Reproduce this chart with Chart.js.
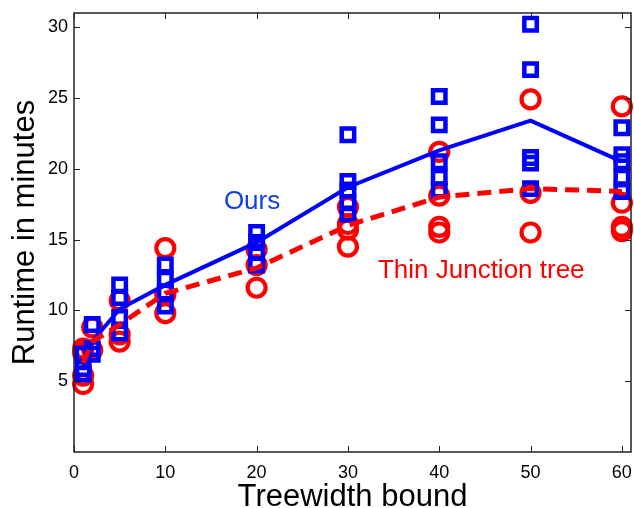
<!DOCTYPE html>
<html>
<head>
<meta charset="utf-8">
<script src="https://cdn.jsdelivr.net/npm/chart.js@4/dist/chart.umd.min.js"></script>
<style>
  html, body { margin: 0; padding: 0; background: #fff; }
  #wrap { width: 634px; height: 508px; }
</style>
</head>
<body>
<div id="wrap"><canvas id="runtimeChart"></canvas></div>
<script>
// treewidth bounds on the x axis
const widths = [1, 2, 5, 10, 20, 30, 40, 50, 60];

// individual runs, one list per treewidth bound
const oursRuns = [
    [5.5, 5.9, 6.9],
    [6.9, 7.3, 9.0],
    [8.4, 9.5, 10.9, 11.8],
    [10.3, 11.3, 12.2, 13.2],
    [13.2, 14.1, 14.8, 15.5],
    [16.8, 17.6, 18.5, 19.1, 22.4],
    [18.5, 19.4, 20.5, 23.1, 25.1],
    [18.6, 20.4, 20.8, 27.0, 30.2],
    [18.4, 19.4, 20.5, 21.0, 22.9]
];
const thinRuns = [
    [4.8, 5.4, 7.0, 7.3],
    [7.2, 8.8],
    [7.8, 8.3, 10.7],
    [9.8, 11.1, 14.4],
    [11.6, 13.2, 14.3],
    [14.5, 15.7, 16.1, 17.3],
    [15.5, 15.9, 18.1, 21.2],
    [15.5, 18.3, 24.9],
    [15.6, 15.9, 17.6, 24.4]
];

// mean curves
const oursMean = [5.9, 7.8, 10.1, 11.8, 14.8, 18.7, 21.3, 23.4, 20.5];
const thinMean = [6.3, 7.8, 9.0, 11.2, 13.0, 16.0, 18.0, 18.6, 18.4];

const xTicks = [0, 10, 20, 30, 40, 50, 60];
const yTicks = [5, 10, 15, 20, 25, 30];

const BLUE = '#0000ff';
const RED = '#ff0000';

function toPoints(runs) {
    const pts = [];
    runs.forEach((list, i) => list.forEach(v => pts.push({x: widths[i], y: v})));
    return pts;
}
function toLine(values) {
    return values.map((v, i) => ({x: widths[i], y: v}));
}

// MATLAB style box with inward ticks, plus text labels
const boxPlugin = {
    id: 'box',
    afterDatasetsDraw(chart) {
        const {ctx, chartArea: a, scales: {x, y}} = chart;
        ctx.save();
        ctx.strokeStyle = '#222';
        ctx.lineWidth = 1;
        ctx.beginPath();
        xTicks.forEach(t => {
            const px = Math.round(x.getPixelForValue(t)) + 0.5;
            ctx.moveTo(px, a.bottom); ctx.lineTo(px, a.bottom - 6);
            ctx.moveTo(px, a.top); ctx.lineTo(px, a.top + 6);
        });
        yTicks.forEach(t => {
            const py = Math.round(y.getPixelForValue(t)) + 0.5;
            ctx.moveTo(a.left, py); ctx.lineTo(a.left + 6, py);
            ctx.moveTo(a.right, py); ctx.lineTo(a.right - 6, py);
        });
        ctx.stroke();
        ctx.lineWidth = 1.5;
        ctx.strokeRect(a.left, a.top, a.right - a.left, a.bottom - a.top);

        ctx.font = '26px "Liberation Sans", Arial, sans-serif';
        ctx.textAlign = 'center';
        ctx.textBaseline = 'middle';
        ctx.fillStyle = '#1040e0';
        ctx.fillText('Ours', x.getPixelForValue(19.5), y.getPixelForValue(17.7));
        ctx.fillStyle = RED;
        ctx.fillText('Thin Junction tree', x.getPixelForValue(44.6), y.getPixelForValue(12.8));
        ctx.restore();
    }
};

new Chart(document.getElementById('runtimeChart'), {
    type: 'scatter',
    data: {
        datasets: [{
            label: 'Thin Junction tree mean',
            data: toLine(thinMean),
            showLine: true,
            borderColor: RED,
            borderWidth: 5,
            borderDash: [14, 8],
            pointRadius: 0,
            clip: false,
            order: 1
        }, {
            label: 'Ours mean',
            data: toLine(oursMean),
            showLine: true,
            borderColor: BLUE,
            borderWidth: 4,
            pointRadius: 0,
            clip: false,
            order: 2
        }, {
            label: 'Ours',
            data: toPoints(oursRuns),
            pointStyle: 'rect',
            pointRadius: 8.8,
            borderWidth: 4.5,
            borderColor: BLUE,
            backgroundColor: 'rgba(0,0,0,0)',
            clip: false,
            order: 3
        }, {
            label: 'Thin Junction tree',
            data: toPoints(thinRuns),
            pointStyle: 'circle',
            pointRadius: 9,
            borderWidth: 4.2,
            borderColor: RED,
            backgroundColor: 'rgba(0,0,0,0)',
            clip: false,
            order: 4
        }]
    },
    options: {
        responsive: true,
        maintainAspectRatio: false,
        animation: false,
        layout: { autoPadding: false, padding: { top: 13, right: 3, left: 0, bottom: 0 } },
        plugins: {
            legend: { display: false },
            tooltip: { enabled: false }
        },
        scales: {
            x: {
                type: 'linear',
                min: 0,
                max: 61,
                afterBuildTicks: s => { s.ticks = xTicks.map(v => ({value: v})); },
                afterFit: s => { s.height = 56; },
                // tick marks hidden, but their length spaces the labels
                grid: { display: false, drawTicks: true, tickLength: 10 },
                border: { display: false },
                ticks: {
                    padding: 0,
                    color: '#000',
                    font: { size: 18, family: '"Liberation Sans", Arial, sans-serif' }
                },
                title: {
                    display: true,
                    text: 'Treewidth bound',
                    color: '#000',
                    padding: 0,
                    font: { size: 31, family: '"Liberation Sans", Arial, sans-serif', lineHeight: 0.65 }
                }
            },
            y: {
                min: 0,
                max: 31,
                afterBuildTicks: s => { s.ticks = yTicks.map(v => ({value: v})); },
                afterFit: s => { s.width = 74; s.paddingTop = 0; s.paddingBottom = 0; },
                grid: { display: false, drawTicks: false },
                border: { display: false },
                ticks: {
                    padding: 6,
                    color: '#000',
                    font: { size: 18, family: '"Liberation Sans", Arial, sans-serif' }
                },
                title: {
                    display: true,
                    text: 'Runtime in minutes',
                    color: '#000',
                    padding: { top: 7, bottom: 0 },
                    font: { size: 31, family: '"Liberation Sans", Arial, sans-serif', lineHeight: 1.2 }
                }
            }
        }
    },
    plugins: [boxPlugin]
});
</script>
</body>
</html>
